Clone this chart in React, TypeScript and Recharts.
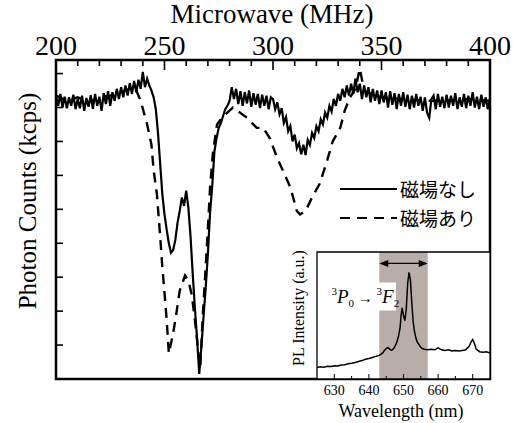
import { Label, Legend, Line, LineChart, ReferenceArea, ReferenceLine, XAxis, YAxis } from 'recharts';

const SERIF = '"Liberation Serif", "Times New Roman", serif';
const JP = '"Noto Sans CJK JP", "Noto Sans", sans-serif';

// main plot: microwave sweep, 1 MHz steps from 200 MHz
const mhzTicks = [200, 210, 220, 230, 240, 250, 260, 270, 280, 290, 300, 310, 320, 330, 340, 350, 360, 370, 380, 390, 400];
const countTicks = [1, 2, 3, 4, 5, 6, 7, 8, 9];

const noFieldCounts = [
  8.35, 8.05, 8.40, 8.00, 8.32, 7.98, 8.30, 8.05, 8.38, 7.95,
  8.25, 7.98, 8.35, 7.90, 8.28, 8.02, 8.36, 7.96, 8.40, 8.05,
  8.32, 7.90, 8.42, 8.10, 8.48, 8.05, 8.45, 8.20, 8.55, 8.25,
  8.60, 8.30, 8.65, 8.35, 8.72, 8.40, 8.78, 8.45, 8.82, 8.55,
  9.05, 8.60, 8.85, 8.65, 8.50, 8.30, 7.95, 7.25, 6.35, 5.45,
  4.85, 4.40, 4.00, 3.72, 3.80, 4.10, 4.60, 4.95, 5.35, 5.10,
  5.55, 5.05, 4.20, 3.10, 2.10, 1.20, 0.15, 0.95, 1.85, 2.70,
  3.70, 4.90, 5.70, 6.70, 7.10, 7.40, 7.55, 7.75, 7.95, 8.05,
  8.20, 8.60, 8.25, 8.55, 8.10, 8.48, 8.05, 8.45, 8.12, 8.50,
  8.02, 8.42, 8.08, 8.40, 7.98, 8.38, 8.05, 8.35, 7.95, 8.30,
  8.25, 7.95, 8.15, 7.80, 7.98, 7.55, 7.72, 7.30, 7.45, 7.00,
  7.20, 6.80, 6.95, 6.62, 6.90, 6.60, 7.05, 6.90, 7.25, 7.10,
  7.45, 7.30, 7.65, 7.50, 7.85, 7.70, 8.05, 7.88, 8.25, 8.05,
  8.40, 8.20, 8.55, 8.30, 8.65, 8.35, 8.70, 8.40, 8.85, 8.45,
  8.70, 8.25, 8.65, 8.30, 8.60, 8.15, 8.55, 8.20, 8.50, 8.10,
  8.50, 8.15, 8.45, 8.00, 8.48, 8.08, 8.42, 7.95, 8.40, 8.05,
  8.45, 8.02, 8.38, 7.95, 8.35, 8.00, 8.40, 8.05, 8.32, 7.90,
  8.30, 7.85, 7.70, 8.25, 8.35, 7.95, 8.40, 8.02, 8.32, 7.98,
  8.38, 8.00, 8.35, 8.05, 8.42, 7.95, 8.30, 8.02, 8.40, 7.98,
  8.35, 8.05, 8.45, 8.00, 8.32, 7.95, 8.38, 8.02, 8.30, 7.95,
  8.25,
];

const fieldMhz = [
  200, 205, 210, 215, 220, 225, 230, 234, 237, 239, 242, 244, 245, 246.5, 248, 249, 250, 251, 252,
  254, 255.5, 257, 259.5, 261, 262.5, 264, 265.5, 266.5, 267.5, 268.7, 270, 271, 272.3, 274.2, 276.5,
  281.5, 288, 292.5, 295.5, 298.5, 302, 304.5, 308, 311, 312.5, 315, 318, 321.5, 325, 327.5, 331,
  333, 335.5, 338, 340, 342, 345, 350, 360, 370, 380, 390, 400,
];
const fieldCounts = [
  8.35, 8.20, 8.30, 8.15, 8.30, 8.35, 8.45, 8.55, 8.50, 8.20, 7.50, 6.90, 6.15, 5.45, 4.20, 3.30, 2.55, 1.75, 0.75,
  1.35, 1.95, 2.60, 3.05, 2.90, 2.50, 1.75, 0.85, 0.35, 1.70, 3.00, 4.45, 5.65, 6.65, 7.50, 7.70,
  8.00, 7.70, 7.40, 7.40, 7.10, 6.50, 6.15, 5.65, 4.95, 4.85, 4.95, 5.35, 5.75, 6.45, 7.00, 7.40,
  7.90, 8.30, 8.55, 9.15, 8.50, 8.40, 8.30, 8.25, 8.20, 8.20, 8.25, 8.20,
];

// inset: PL spectrum
const wavelength = [
  625, 626, 627, 628, 629, 630, 631, 632, 633, 634, 635, 636, 637, 638, 639, 640, 641, 642, 643, 644,
  644.5, 645, 645.5, 646, 646.5, 647, 647.5, 648, 648.5, 649, 649.3, 649.6, 650, 650.4, 650.8, 651.2,
  651.6, 652, 652.4, 652.8, 653.2, 653.6, 654, 654.5, 655, 655.5, 656, 657, 658, 659, 660, 661, 662,
  663, 664, 665, 666, 667, 668, 669, 669.5, 670, 670.5, 671, 672, 673, 674, 675,
];
const plIntensity = [
  9.0, 9.6, 9.3, 10.0, 9.8, 10.5, 10.2, 11.0, 11.2, 12.0, 12.4, 13.0, 13.8, 14.5, 15.5, 16.2, 17.0, 17.8, 18.6, 20.5,
  22.5, 24.0, 24.8, 23.5, 22.5, 23.5, 25.5, 28.5, 33.0, 40.0, 50.0, 56.0, 50.0, 46.0, 55.0, 75.0,
  84.0, 78.0, 60.0, 45.0, 37.0, 32.0, 29.0, 27.0, 25.0, 24.0, 23.5, 23.0, 23.5, 23.0, 24.5, 23.0, 22.5,
  23.0, 22.0, 22.5, 22.0, 22.5, 23.0, 26.0, 29.0, 31.0, 28.0, 23.5, 21.5, 21.0, 21.5, 20.5,
];
const nmTicks = [630, 635, 640, 645, 650, 655, 660, 665, 670];

const series = [
  { name: '磁場なし', dash: undefined as string | undefined },
  { name: '磁場あり', dash: '10 7' },
];

const noFieldData = noFieldCounts.map((v, i) => ({ mhz: 200 + i, counts: v }));
const fieldData = fieldMhz.map((m, i) => ({ mhz: m, counts: fieldCounts[i] }));
const spectrum = wavelength.map((w, i) => ({ nm: w, pl: plIntensity[i] }));

const PLOT_TOP = 60;
const PLOT_LEFT = 56;

const MwTick = ({ x, payload }: any) => {
  const major = payload.value % 50 === 0;
  return (
    <g>
      <line x1={x} x2={x} y1={PLOT_TOP} y2={PLOT_TOP + (major ? 10 : 6)} stroke='#000' strokeWidth={1.6} />
      {major && (
        <text x={x} y={55} textAnchor='middle' fontFamily={SERIF} fontSize={28} fill='#000'>
          {payload.value}
        </text>
      )}
    </g>
  );
};

const CountTick = ({ y }: any) => (
  <line x1={PLOT_LEFT} x2={PLOT_LEFT + 7} y1={y} y2={y} stroke='#000' strokeWidth={1.6} />
);

// inset coords are local to its own svg
const INSET_BOTTOM = 139;
const NmTick = ({ x, payload }: any) => {
  const major = payload.value % 10 === 0;
  return (
    <g>
      <line x1={x} x2={x} y1={INSET_BOTTOM} y2={INSET_BOTTOM - (major ? 5 : 3)} stroke='#000' strokeWidth={1} />
      {major && (
        <text x={x} y={155} textAnchor='middle' fontFamily={SERIF} fontSize={14} fill='#000'>
          {payload.value}
        </text>
      )}
    </g>
  );
};

const renderLegend = ({ payload }: any) => (
  <div style={{ fontFamily: JP, fontSize: 19, color: '#000' }}>
    {series
      .filter((s) => (payload || []).some((p: any) => p.value === s.name))
      .map((s) => (
        <div key={s.name} style={{ display: 'flex', alignItems: 'center', height: 29 }}>
          <svg width={62} height={10}>
            <line x1={2} x2={59} y1={5} y2={5} stroke='#000' strokeWidth={2.2} strokeDasharray={s.dash} />
          </svg>
          <span style={{ lineHeight: '29px' }}>{s.name}</span>
        </div>
      ))}
  </div>
);

const ArrowShape = ({ x1, y1, x2, y2 }: any) => (
  <g>
    <line x1={x1 + 2} x2={x2 - 2} y1={y1} y2={y2} stroke='#000' strokeWidth={1.3} />
    <polygon points={`${x1},${y1} ${x1 + 9},${y1 - 3.5} ${x1 + 9},${y1 + 3.5}`} fill='#000' />
    <polygon points={`${x2},${y2} ${x2 - 9},${y2 - 3.5} ${x2 - 9},${y2 + 3.5}`} fill='#000' />
  </g>
);

const TransitionLabel = ({ viewBox }: any) => {
  const { x, y } = viewBox;
  return (
    <text x={x + 2} y={y + 21} fontFamily={SERIF} fontSize={19} fill='#000'>
      <tspan fontSize={11} dy={-8}>3</tspan>
      <tspan fontStyle='italic' dy={8}>P</tspan>
      <tspan fontSize={11} dy={4}>0</tspan>
      <tspan fontSize={15} dy={-4}> → </tspan>
      <tspan fontSize={11} dy={-8}>3</tspan>
      <tspan fontStyle='italic' dy={8}>F</tspan>
      <tspan fontSize={11} dy={4}>2</tspan>
    </text>
  );
};

export default function App() {
  return (
    <div style={{ position: 'absolute', left: 0, top: 0, width: 513, height: 423, background: '#fff' }}>
      <LineChart width={513} height={423} margin={{ top: 0, right: 23, bottom: 44, left: 0 }}>
        <XAxis
          dataKey='mhz'
          type='number'
          orientation='top'
          domain={[200, 400]}
          ticks={mhzTicks}
          interval={0}
          height={60}
          axisLine={false}
          tickLine={false}
          tick={<MwTick />}
          allowDataOverflow
        >
          <Label
            content={() => (
              <text x={272} y={23} textAnchor='middle' fontFamily={SERIF} fontSize={27} fill='#000'>
                Microwave (MHz)
              </text>
            )}
          />
        </XAxis>
        <YAxis
          type='number'
          domain={[0, 9.4]}
          ticks={countTicks}
          interval={0}
          width={56}
          axisLine={false}
          tickLine={false}
          tick={<CountTick />}
          allowDataOverflow
        >
          <Label
            content={() => (
              <text
                x={27}
                y={201}
                transform='rotate(-90 27 201)'
                textAnchor='middle'
                dominantBaseline='central'
                fontFamily={SERIF}
                fontSize={25}
                fill='#000'
              >
                Photon Counts (kcps)
              </text>
            )}
          />
        </YAxis>
        <Line
          data={noFieldData}
          dataKey='counts'
          name={series[0].name}
          stroke='#000'
          strokeWidth={2.2}
          dot={false}
          isAnimationActive={false}
        />
        <Line
          data={fieldData}
          dataKey='counts'
          name={series[1].name}
          stroke='#000'
          strokeWidth={2.4}
          strokeDasharray={series[1].dash}
          dot={false}
          isAnimationActive={false}
        />
        <ReferenceArea x1={200} x2={400} y1={0} y2={9.4} fill='none' stroke='#000' strokeWidth={2.5} />
        <Legend
          layout='vertical'
          align='center'
          verticalAlign='middle'
          content={renderLegend}
          wrapperStyle={{ left: 338, top: 174, width: 170 }}
        />
      </LineChart>

      <div style={{ position: 'absolute', left: 285, top: 240 }}>
        <LineChart width={228} height={183} data={spectrum} margin={{ top: 12, right: 23, bottom: 0, left: 0 }}>
          <XAxis
            dataKey='nm'
            type='number'
            domain={[625, 675]}
            ticks={nmTicks}
            interval={0}
            height={44}
            axisLine={false}
            tickLine={false}
            tick={<NmTick />}
            allowDataOverflow
          >
            <Label
              content={() => (
                <text x={116} y={177} textAnchor='middle' fontFamily={SERIF} fontSize={18} fill='#000'>
                  Wavelength (nm)
                </text>
              )}
            />
          </XAxis>
          <YAxis type='number' domain={[0, 100]} width={32} axisLine={false} tickLine={false} tick={false} allowDataOverflow>
            <Label
              content={() => (
                <text
                  x={13}
                  y={68}
                  transform='rotate(-90 13 68)'
                  textAnchor='middle'
                  dominantBaseline='central'
                  fontFamily={SERIF}
                  fontSize={16}
                  fill='#000'
                >
                  PL Intensity (a.u.)
                </text>
              )}
            />
          </YAxis>
          <ReferenceArea x1={625} x2={675} y1={0} y2={100} fill='#fff' fillOpacity={1} stroke='none' />
          <ReferenceArea x1={643} x2={657} y1={0} y2={100} fill='#b8ada9' fillOpacity={1} stroke='none' />
          <ReferenceArea x1={628.6} x2={647.8} y1={54} y2={76} fill='#fff' fillOpacity={1} stroke='none'>
            <Label content={TransitionLabel} />
          </ReferenceArea>
          <ReferenceLine segment={[{ x: 643, y: 91 }, { x: 657, y: 91 }]} shape={ArrowShape} />
          <Line dataKey='pl' stroke='#000' strokeWidth={1.5} dot={false} isAnimationActive={false} />
          <ReferenceArea x1={625} x2={675} y1={0} y2={100} fill='none' stroke='#000' strokeWidth={1.3} />
        </LineChart>
      </div>
    </div>
  );
}
